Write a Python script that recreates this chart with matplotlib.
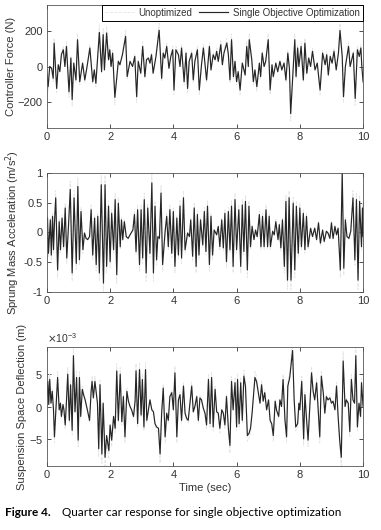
import matplotlib
matplotlib.use('Agg')
import matplotlib.pyplot as plt
from matplotlib.ticker import ScalarFormatter

# Controller force (N)
force_time = [0.00, 0.04, 0.09, 0.15, 0.20, 0.23, 0.31, 0.36, 0.41, 0.46, 0.52, 0.57, 0.62, 0.70, 0.76, 0.80,
              0.85, 0.92, 0.97, 1.04, 1.13, 1.20, 1.28, 1.36, 1.45, 1.50, 1.55, 1.66, 1.73, 1.78, 1.82, 1.89,
              1.95, 1.99, 2.03, 2.08, 2.15, 2.26, 2.31, 2.39, 2.49, 2.54, 2.63, 2.71, 2.78, 2.84, 2.89, 2.97,
              3.03, 3.10, 3.15, 3.21, 3.26, 3.31, 3.36, 3.45, 3.55, 3.63, 3.68, 3.73, 3.79, 3.86, 3.92, 3.98,
              4.02, 4.08, 4.16, 4.21, 4.26, 4.34, 4.40, 4.45, 4.50, 4.58, 4.63, 4.68, 4.76, 4.82, 4.89, 4.95,
              5.05, 5.14, 5.19, 5.26, 5.32, 5.37, 5.42, 5.50, 5.55, 5.60, 5.69, 5.74, 5.79, 5.84, 5.90, 5.95,
              6.00, 6.05, 6.11, 6.18, 6.27, 6.32, 6.37, 6.40, 6.48, 6.53, 6.58, 6.64, 6.72, 6.76, 6.81, 6.87,
              6.92, 7.00, 7.06, 7.12, 7.16, 7.24, 7.30, 7.37, 7.43, 7.50, 7.56, 7.62, 7.67, 7.71, 7.80, 7.84,
              7.88, 7.93, 7.97, 8.04, 8.11, 8.16, 8.22, 8.28, 8.34, 8.40, 8.48, 8.55, 8.64, 8.72, 8.80, 8.85,
              8.90, 8.96, 9.02, 9.08, 9.15, 9.22, 9.27, 9.34, 9.38, 9.44, 9.54, 9.59, 9.69, 9.75, 9.82, 9.88,
              9.93, 9.96, 10.00]
force_opt = [-40, -114, 0, -10, -67, 133, -124, 10, -29, 67, 95, 0, 114, -143, 48, -187,
             19, -76, 152, -86, 19, -76, 10, 105, -86, -19, -95, 194, -29, 181, -19, 190,
             38, 95, 0, 76, -175, 29, 10, 67, 171, -57, 29, 0, 57, -171, 29, -38,
             114, -57, 38, 48, 19, 67, -38, 57, 206, -67, 76, 48, 114, -10, 57, 95,
             -133, 95, 67, 0, 105, -86, 76, -124, 29, 76, -76, 29, 95, -133, 10, 105,
             -76, 114, -19, 67, 38, 86, 29, 124, 10, 76, 133, 67, -76, 152, -57, 29,
             -86, -29, -133, 19, -48, 114, 0, 152, 38, -86, -19, -114, 19, -57, 76, 0,
             29, 152, -133, 10, -57, 19, -29, 29, -19, 19, -76, 76, -10, -267, 19, 152,
             -57, 105, 0, 114, -76, 133, -38, 48, 0, 86, -19, 19, -133, 76, 10, 67,
             -48, 57, 19, 86, -19, 76, 204, 57, -171, 0, 114, 0, 76, -181, 95, 57,
             105, 0, -86]
force_unopt = [-50, -140, 5, -15, -85, 160, -150, 15, -35, 80, 115, -5, 140, -175, 60, -225,
               25, -90, 185, -105, 25, -90, 10, 125, -100, -25, -115, 235, -35, 215, -25, 230,
               45, 115, 0, 90, -215, 35, 10, 80, 205, -70, 35, 0, 70, -205, 35, -45,
               140, -70, 45, 55, 20, 80, -45, 70, 245, -80, 90, 55, 135, -15, 70, 115,
               -160, 115, 80, 0, 125, -105, 90, -150, 35, 90, -90, 35, 115, -160, 10, 125,
               -90, 135, -25, 80, 45, 105, 35, 150, 10, 90, 160, 80, -90, 185, -70, 35,
               -105, -35, -160, 25, -55, 140, 0, 185, 45, -105, -25, -140, 25, -70, 90, 0,
               35, 185, -160, 10, -70, 25, -35, 35, -25, 25, -90, 90, -15, -310, 25, 185,
               -70, 125, 0, 140, -90, 160, -45, 55, 0, 105, -25, 25, -160, 90, 10, 80,
               -55, 70, 25, 105, -25, 90, 245, 70, -205, 0, 140, 0, 90, -220, 115, 70,
               125, 0, -105]

# Sprung mass acceleration (m/s^2)
accel_time = [0.00, 0.02, 0.05, 0.11, 0.14, 0.18, 0.21, 0.24, 0.28, 0.34, 0.39, 0.43, 0.48, 0.53, 0.58, 0.63,
              0.68, 0.74, 0.80, 0.86, 0.93, 0.98, 1.03, 1.08, 1.14, 1.19, 1.24, 1.29, 1.35, 1.40, 1.45, 1.51,
              1.56, 1.61, 1.66, 1.72, 1.79, 1.84, 1.89, 1.95, 2.00, 2.05, 2.11, 2.16, 2.21, 2.26, 2.32, 2.36,
              2.40, 2.45, 2.51, 2.57, 2.63, 2.72, 2.77, 2.82, 2.87, 2.93, 2.98, 3.03, 3.08, 3.14, 3.19, 3.26,
              3.32, 3.37, 3.42, 3.47, 3.51, 3.56, 3.61, 3.66, 3.74, 3.79, 3.84, 3.89, 3.95, 4.00, 4.05, 4.11,
              4.16, 4.21, 4.26, 4.32, 4.37, 4.45, 4.51, 4.55, 4.61, 4.66, 4.72, 4.76, 4.81, 4.86, 4.93, 4.98,
              5.03, 5.08, 5.14, 5.19, 5.24, 5.29, 5.37, 5.42, 5.47, 5.53, 5.58, 5.63, 5.68, 5.74, 5.79, 5.84,
              5.89, 5.95, 6.00, 6.07, 6.13, 6.18, 6.23, 6.28, 6.34, 6.39, 6.44, 6.49, 6.55, 6.60, 6.65, 6.72,
              6.77, 6.82, 6.87, 6.93, 6.98, 7.03, 7.07, 7.14, 7.19, 7.24, 7.31, 7.35, 7.40, 7.45, 7.51, 7.56,
              7.61, 7.66, 7.72, 7.79, 7.84, 7.89, 7.95, 8.00, 8.05, 8.11, 8.16, 8.21, 8.26, 8.34, 8.40, 8.47,
              8.53, 8.59, 8.65, 8.72, 8.77, 8.84, 8.89, 8.95, 9.00, 9.05, 9.11, 9.16, 9.21, 9.28, 9.34, 9.39,
              9.44, 9.49, 9.55, 9.61, 9.68, 9.74, 9.79, 9.84, 9.89, 9.95, 9.98, 10.00]
accel_opt = [0.10, 0.24, -0.35, 0.21, -0.38, 0.27, -0.29, 0.16, 0.58, -0.63, 0.18, -0.29, 0.24, -0.24, 0.41, -0.43,
             0.07, 0.72, -0.68, 0.58, -0.52, 0.77, -0.46, 0.35, -0.29, -0.01, -0.10, -0.12, -0.07, 0.38, -0.38, 0.24,
             -0.54, 0.27, -0.68, 0.80, -0.85, 0.80, -0.57, 0.44, -0.49, 0.32, -0.29, 0.55, -0.71, 0.49, -0.24, 0.21,
             -0.12, 0.18, -0.07, -0.10, -0.04, 0.04, 0.30, -0.32, 0.38, -0.54, 0.38, -0.43, 0.55, -0.68, 0.41, -0.35,
             0.83, -0.68, 0.44, -0.46, -0.07, -0.10, 0.66, -0.54, 0.02, 0.27, -0.24, 0.38, -0.35, 0.35, -0.57, 0.24,
             -0.38, 0.44, -0.43, 0.58, -0.29, -0.01, -0.07, 0.21, -0.40, 0.41, -0.57, 0.30, -0.38, 0.21, -0.21, 0.35,
             -0.32, 0.44, -0.54, 0.27, -0.38, 0.04, -0.04, 0.10, -0.24, 0.21, -0.26, 0.32, -0.49, 0.35, -0.29, 0.44,
             -0.57, 0.55, -0.29, 0.38, -0.57, 0.46, -0.32, 0.52, -0.63, 0.44, -0.24, 0.10, -0.12, 0.04, -0.07, 0.30,
             -0.24, 0.27, -0.24, 0.38, -0.24, 0.27, -0.24, 0.02, -0.04, 0.18, -0.12, 0.13, -0.26, 0.21, -0.57, 0.52,
             -0.80, 0.58, -0.80, 0.49, -0.63, 0.44, -0.35, 0.41, -0.24, 0.32, -0.29, 0.27, -0.24, 0.07, -0.07, 0.07,
             -0.12, 0.16, -0.18, 0.04, -0.15, 0.02, -0.01, -0.10, 0.16, -0.10, 0.10, -0.04, 0.07, -0.63, 1.00, -0.60,
             0.21, -0.07, -0.10, 0.02, 0.58, -0.46, 0.55, -0.80, 0.52, -0.24, 0.41, -0.07]
accel_unopt = [0.12, 0.29, -0.42, 0.25, -0.46, 0.32, -0.35, 0.19, 0.70, -0.76, 0.22, -0.35, 0.29, -0.29, 0.49, -0.52,
               0.08, 0.86, -0.82, 0.70, -0.62, 0.92, -0.55, 0.42, -0.35, -0.01, -0.12, -0.14, -0.08, 0.46, -0.46, 0.29,
               -0.65, 0.32, -0.82, 0.96, -1.00, 0.96, -0.68, 0.53, -0.59, 0.38, -0.35, 0.66, -0.85, 0.59, -0.29, 0.25,
               -0.14, 0.22, -0.08, -0.12, -0.05, 0.05, 0.36, -0.38, 0.46, -0.65, 0.46, -0.52, 0.66, -0.82, 0.49, -0.42,
               0.98, -0.82, 0.53, -0.55, -0.08, -0.12, 0.79, -0.65, 0.02, 0.32, -0.29, 0.46, -0.42, 0.42, -0.68, 0.29,
               -0.46, 0.53, -0.52, 0.70, -0.35, -0.01, -0.08, 0.25, -0.48, 0.49, -0.68, 0.36, -0.46, 0.25, -0.25, 0.42,
               -0.38, 0.53, -0.65, 0.32, -0.46, 0.05, -0.05, 0.12, -0.29, 0.25, -0.31, 0.38, -0.59, 0.42, -0.35, 0.53,
               -0.68, 0.66, -0.35, 0.46, -0.68, 0.55, -0.38, 0.62, -0.76, 0.53, -0.29, 0.12, -0.14, 0.05, -0.08, 0.36,
               -0.29, 0.32, -0.29, 0.46, -0.29, 0.32, -0.29, 0.02, -0.05, 0.22, -0.14, 0.16, -0.31, 0.25, -0.68, 0.62,
               -0.96, 0.70, -0.96, 0.59, -0.76, 0.53, -0.42, 0.49, -0.29, 0.38, -0.35, 0.32, -0.29, 0.08, -0.08, 0.08,
               -0.14, 0.19, -0.22, 0.05, -0.18, 0.02, -0.01, -0.12, 0.19, -0.12, 0.12, -0.05, 0.08, -0.76, 1.00, -0.72,
               0.25, -0.08, -0.12, 0.02, 0.70, -0.55, 0.66, -0.96, 0.62, -0.29, 0.49, -0.08]

# Suspension space deflection (x1e-3 m)
defl_time = [0.00, 0.03, 0.06, 0.09, 0.13, 0.17, 0.21, 0.24, 0.29, 0.34, 0.39, 0.43, 0.46, 0.51, 0.54, 0.58,
             0.62, 0.66, 0.71, 0.75, 0.80, 0.84, 0.89, 0.94, 0.99, 1.03, 1.07, 1.12, 1.16, 1.21, 1.28, 1.35,
             1.40, 1.43, 1.47, 1.52, 1.56, 1.60, 1.64, 1.68, 1.74, 1.78, 1.84, 1.89, 1.96, 2.00, 2.05, 2.11,
             2.16, 2.21, 2.26, 2.32, 2.37, 2.42, 2.47, 2.53, 2.58, 2.63, 2.68, 2.74, 2.79, 2.82, 2.87, 2.93,
             2.98, 3.02, 3.07, 3.12, 3.16, 3.21, 3.26, 3.32, 3.37, 3.42, 3.47, 3.53, 3.58, 3.63, 3.68, 3.74,
             3.79, 3.84, 3.89, 3.95, 4.00, 4.05, 4.11, 4.16, 4.21, 4.26, 4.32, 4.37, 4.42, 4.47, 4.53, 4.58,
             4.63, 4.68, 4.74, 4.79, 4.84, 4.89, 4.95, 5.00, 5.05, 5.11, 5.16, 5.21, 5.26, 5.32, 5.37, 5.42,
             5.47, 5.53, 5.58, 5.63, 5.68, 5.74, 5.79, 5.84, 5.89, 5.95, 6.00, 6.03, 6.08, 6.13, 6.18, 6.23,
             6.28, 6.34, 6.39, 6.44, 6.49, 6.58, 6.63, 6.68, 6.74, 6.79, 6.84, 6.89, 6.95, 7.01, 7.06, 7.11,
             7.16, 7.22, 7.26, 7.33, 7.37, 7.42, 7.47, 7.53, 7.58, 7.62, 7.68, 7.74, 7.77, 7.82, 7.87, 7.93,
             7.97, 8.00, 8.06, 8.12, 8.16, 8.21, 8.26, 8.32, 8.37, 8.42, 8.47, 8.53, 8.58, 8.63, 8.68, 8.74,
             8.79, 8.84, 8.89, 8.95, 9.00, 9.05, 9.11, 9.16, 9.21, 9.26, 9.31, 9.37, 9.43, 9.47, 9.53, 9.58,
             9.63, 9.68, 9.73, 9.77, 9.82, 9.87, 9.92, 9.95, 10.00]
defl_opt = [1.5, 3.8, 0.3, 4.1, 0.5, 2.3, -0.5, -4.6, 0.0, 4.4, -0.5, 0.5, -1.5, 0.3, -0.5, -2.8,
            0.8, 4.9, -2.1, 3.3, -3.6, 7.7, -0.8, 4.4, -5.1, 4.4, -1.5, 2.6, 1.8, 1.0, -0.5, -2.1,
            2.3, 3.8, 1.3, 3.8, 2.1, 0.5, -6.4, 3.3, -7.2, 0.5, -7.7, -4.4, -6.7, -2.8, -5.1, -1.5,
            -3.3, 5.4, -2.1, 4.9, -2.3, 1.5, -4.6, 2.3, 0.8, 0.0, -0.5, -1.5, 0.8, 5.4, -2.6, 5.6,
            -1.3, 4.1, -3.1, 5.6, -2.1, -0.5, 1.0, -0.5, -0.8, -2.6, -3.1, -3.3, -7.2, -1.0, 2.8, -4.6,
            -1.0, -2.1, 1.5, 2.1, -0.5, 5.1, -4.6, 1.0, 1.8, -2.1, 3.1, -1.0, -1.8, -2.1, 0.8, 3.1,
            -0.8, 0.0, 1.5, -2.1, 1.3, 1.0, -0.3, -1.0, -2.8, 4.1, -2.6, 4.4, -3.1, 2.6, -0.8, -1.0,
            -3.3, -0.5, -1.0, -2.8, 1.5, -3.3, -5.9, 3.8, -0.5, 3.6, -3.1, 4.1, -2.6, 3.6, -2.1, 4.6,
            3.1, -4.4, -4.1, -3.3, -1.0, 4.4, 3.8, 2.3, 0.5, 3.3, 0.8, 2.1, -0.5, 1.0, -2.1, -2.6,
            -4.4, 0.8, -0.5, -1.5, 1.0, 0.0, 4.1, -2.1, -4.6, 3.1, 4.4, 7.2, 8.5, 1.0, -3.1, -2.6,
            0.5, -0.5, 3.8, -4.9, 1.8, -1.8, -5.1, 0.5, 5.1, 2.3, 1.0, 3.6, -0.5, -4.6, 4.6, 2.1,
            -1.0, 1.5, 1.0, 1.3, 0.5, 0.8, -0.5, 3.1, -1.5, -5.1, -7.7, 6.9, 0.0, 1.0, 0.5, -3.8,
            4.1, 1.0, 0.5, 7.7, -3.1, 0.5, -1.5, 3.6, 0.0]
defl_unopt = [1.8, 4.6, 0.4, 4.9, 0.6, 2.8, -0.6, -5.5, 0.0, 5.3, -0.6, 0.6, -1.8, 0.4, -0.6, -3.4,
              1.0, 5.9, -2.5, 4.0, -4.3, 9.0, -1.0, 5.3, -6.1, 5.3, -1.8, 3.1, 2.2, 1.2, -0.6, -2.5,
              2.8, 4.6, 1.6, 4.6, 2.5, 0.6, -7.7, 4.0, -8.6, 0.6, -9.0, -5.3, -8.0, -3.4, -6.1, -1.8,
              -4.0, 6.5, -2.5, 5.9, -2.8, 1.8, -5.5, 2.8, 1.0, 0.0, -0.6, -1.8, 1.0, 6.5, -3.1, 6.7,
              -1.6, 4.9, -3.7, 6.7, -2.5, -0.6, 1.2, -0.6, -1.0, -3.1, -3.7, -4.0, -8.6, -1.2, 3.4, -5.5,
              -1.2, -2.5, 1.8, 2.5, -0.6, 6.1, -5.5, 1.2, 2.2, -2.5, 3.7, -1.2, -2.2, -2.5, 1.0, 3.7,
              -1.0, 0.0, 1.8, -2.5, 1.6, 1.2, -0.4, -1.2, -3.4, 4.9, -3.1, 5.3, -3.7, 3.1, -1.0, -1.2,
              -4.0, -0.6, -1.2, -3.4, 1.8, -4.0, -7.1, 4.6, -0.6, 4.3, -3.7, 4.9, -3.1, 4.3, -2.5, 5.5,
              3.7, -5.3, -4.9, -4.0, -1.2, 5.3, 4.6, 2.8, 0.6, 4.0, 1.0, 2.5, -0.6, 1.2, -2.5, -3.1,
              -5.3, 1.0, -0.6, -1.8, 1.2, 0.0, 4.9, -2.5, -5.5, 3.7, 5.3, 8.6, 9.0, 1.2, -3.7, -3.1,
              0.6, -0.6, 4.6, -5.9, 2.2, -2.2, -6.1, 0.6, 6.1, 2.8, 1.2, 4.3, -0.6, -5.5, 5.5, 2.5,
              -1.2, 1.8, 1.2, 1.6, 0.6, 1.0, -0.6, 3.7, -1.8, -6.1, -9.0, 8.3, 0.0, 1.2, 0.6, -4.6,
              4.9, 1.2, 0.6, 9.0, -3.7, 0.6, -1.8, 4.3, 0.0]

x_ticks = [0, 2, 4, 6, 8, 10]
force_ticks = [-200, 0, 200]
accel_ticks = [-1, -0.5, 0, 0.5, 1]
defl_ticks = [-5, 0, 5]

UNOPT_COLOR = '#e4e4e4'
OPT_COLOR = '#262626'
TEXT_COLOR = '#333333'


def style_axes(ax, yticks, ylim):
    ax.set_xlim(0, 10)
    ax.set_ylim(*ylim)
    ax.set_xticks(x_ticks)
    ax.set_yticks(yticks)
    ax.tick_params(direction='in', top=True, right=True, length=3, width=0.6,
                   labelsize=8, colors=TEXT_COLOR, pad=3)
    for spine in ax.spines.values():
        spine.set_linewidth(0.6)
        spine.set_color('#555555')


def draw_pair(ax, t, unopt, opt):
    ax.plot(t, unopt, color=UNOPT_COLOR, linestyle='--', linewidth=0.6, label='Unoptimized')
    ax.plot(t, opt, color=OPT_COLOR, linewidth=0.85, label='Single Objective Optimization')


def main():
    plt.rcParams['font.family'] = ['Liberation Sans', 'DejaVu Sans']
    fig = plt.figure(figsize=(3.81, 5.30), dpi=100)

    ax1 = fig.add_axes([0.123, 0.758, 0.830, 0.233])
    ax2 = fig.add_axes([0.123, 0.449, 0.830, 0.225])
    ax3 = fig.add_axes([0.123, 0.121, 0.830, 0.224])

    # Controller force
    draw_pair(ax1, force_time, force_unopt, force_opt)
    style_axes(ax1, force_ticks, (-350, 350))
    ax1.set_ylabel('Controller Force (N)', fontsize=8, color=TEXT_COLOR, labelpad=1)
    leg = ax1.legend(loc='upper right', ncol=2, fontsize=7, frameon=True, fancybox=False,
                     borderaxespad=0, handlelength=3.0, columnspacing=0.7, handletextpad=0.5,
                     borderpad=0.3)
    leg.get_frame().set_edgecolor('black')
    leg.get_frame().set_linewidth(0.7)
    leg.get_frame().set_alpha(1)
    for text in leg.get_texts():
        text.set_color(TEXT_COLOR)

    # Sprung mass acceleration
    draw_pair(ax2, accel_time, accel_unopt, accel_opt)
    style_axes(ax2, accel_ticks, (-1, 1))
    ax2.set_yticklabels(['-1', '-0.5', '0', '0.5', '1'])
    ax2.set_ylabel('Sprung Mass Acceleration (m/s$^2$)', fontsize=8, color=TEXT_COLOR, labelpad=1)

    # Suspension deflection, values stored in mm-scale units (x1e-3)
    draw_pair(ax3, defl_time, [v * 1e-3 for v in defl_unopt], [v * 1e-3 for v in defl_opt])
    style_axes(ax3, [v * 1e-3 for v in defl_ticks], (-9e-3, 9e-3))
    fmt = ScalarFormatter(useMathText=True)
    fmt.set_powerlimits((-2, 2))
    ax3.yaxis.set_major_formatter(fmt)
    ax3.yaxis.get_offset_text().set_fontsize(7.5)
    ax3.yaxis.get_offset_text().set_color(TEXT_COLOR)
    ax3.set_ylabel('Suspension Space Deflection (m)', fontsize=8, color=TEXT_COLOR, labelpad=1)
    ax3.set_xlabel('Time (sec)', fontsize=8, color=TEXT_COLOR, labelpad=2)

    fig.text(0.013, 0.027, 'Figure 4.', fontsize=8.5, fontweight='bold', family='Lato')
    fig.text(0.163, 0.027, 'Quarter car response for single objective optimization',
             fontsize=8.5, family='Lato')

    fig.savefig('out.png', dpi=100)


if __name__ == "__main__":
    main()
